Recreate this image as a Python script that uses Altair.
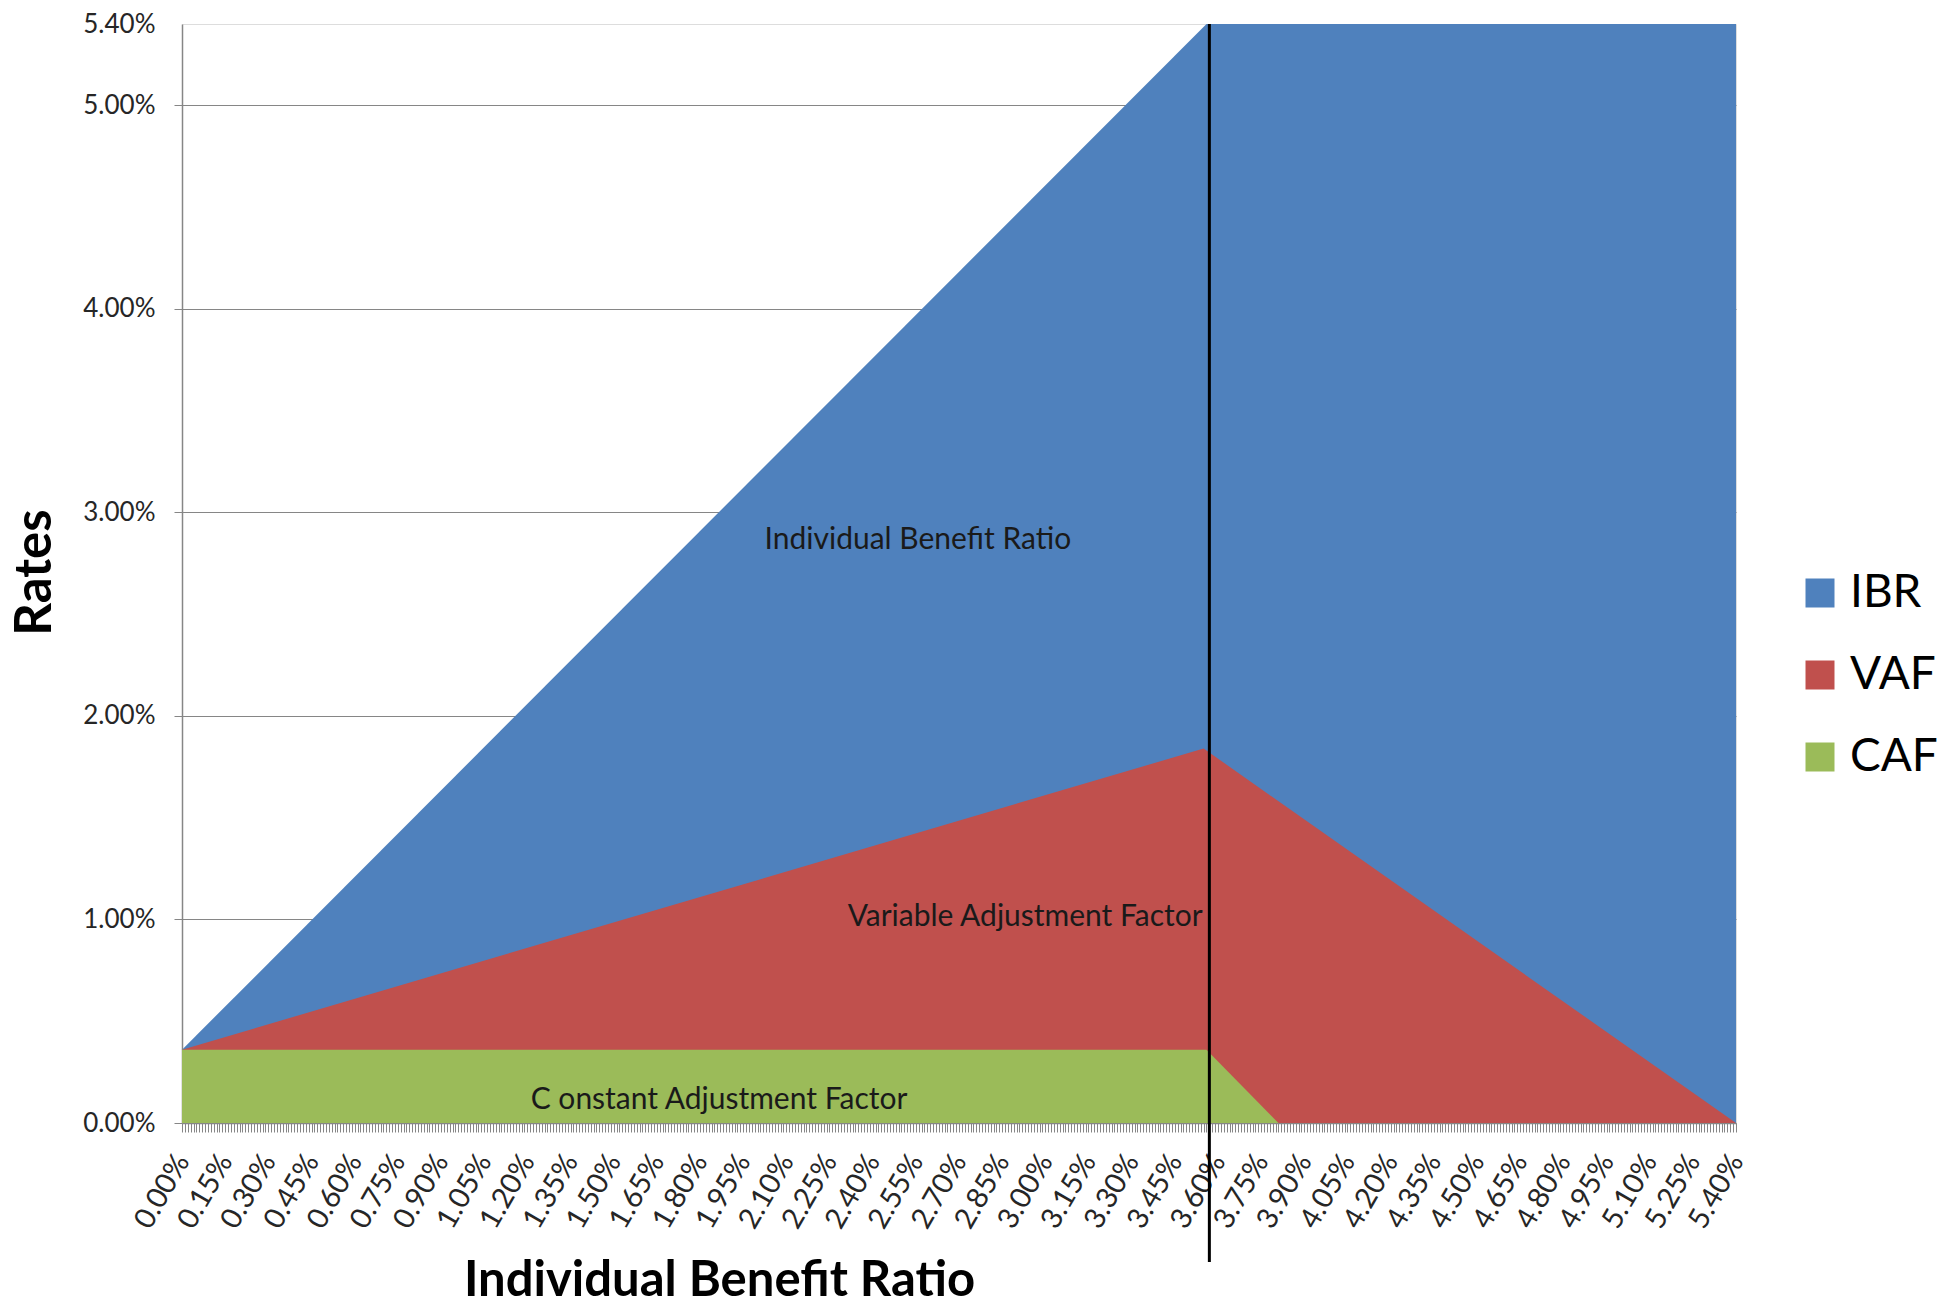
import altair as alt
import pandas as pd

# Rates (in %) at the breakpoints of each stacked band; each value is the band's top edge.
ibr_x = [0.00, 3.56, 5.40]
ibr_top = [0.36, 5.40, 5.40]

vaf_x = [0.00, 3.55, 5.40]
vaf_top = [0.36, 1.84, 0.00]

caf_x = [0.00, 3.56, 3.81]
caf_top = [0.36, 0.36, 0.00]

series_names = ["IBR", "VAF", "CAF"]
series_colors = ["#4F81BD", "#C0504D", "#9BBB59"]

marker_x = [3.57]

label_text = ["Individual Benefit Ratio", "Variable Adjustment Factor", "C onstant Adjustment Factor"]
label_x = [2.557, 2.930, 1.866]
label_y = [2.866, 1.013, 0.113]

y_ticks = [0, 1, 2, 3, 4, 5, 5.4]
x_ticks = [round(i * 0.01, 2) for i in range(541)]

FONT = "Lato"
GRAY = "#868686"

W, H = 1554, 1099


def band(name, xs, tops):
    return pd.DataFrame({"series": name, "x": xs, "top": tops})


color = alt.Color(
    "series:N",
    scale=alt.Scale(domain=series_names, range=series_colors),
    legend=alt.Legend(
        title=None,
        orient="none",
        legendX=1615,
        legendY=546,
        symbolType="square",
        symbolSize=841,
        symbolStrokeWidth=0,
        labelFontSize=46,
        labelFont=FONT,
        labelColor="#000000",
        labelOffset=7,
        rowPadding=36,
    ),
)

x_enc = alt.X(
    "x:Q",
    scale=alt.Scale(domain=[0, 5.4], nice=False, zero=False),
    axis=alt.Axis(
        values=x_ticks,
        tickCount=1000,
        labelExpr="round(datum.value*100) % 15 === 0 ? format(datum.value, '.2f') + '%' : ''",
        labelAngle=-60,
        labelAlign="right",
        labelBaseline="middle",
        labelPadding=24,
        labelFontSize=29,
        labelFont=FONT,
        labelColor="#262626",
        labelOverlap=False,
        labelFlush=False,
        labelBound=False,
        tickSize=9,
        tickColor=GRAY,
        tickWidth=1,
        domainColor=GRAY,
        domainWidth=1.5,
        grid=False,
        title="Individual Benefit Ratio",
        titleFont=FONT,
        titleFontSize=49,
        titleFontWeight="bold",
        titleColor="#000000",
        titleX=537,
        titleY=172,
        titleAlign="center",
        titleBaseline="alphabetic",
    ),
)

y_enc = alt.Y(
    "top:Q",
    stack=None,
    scale=alt.Scale(domain=[0, 5.4], nice=False),
    axis=alt.Axis(
        values=y_ticks,
        labelExpr="format(datum.value, '.2f') + '%'",
        labelFontSize=26,
        labelFont=FONT,
        labelColor="#262626",
        labelPadding=19,
        tickSize=8,
        tickColor=GRAY,
        tickOpacity=alt.condition("datum.value > 5.2", alt.value(0), alt.value(1)),
        gridOpacity=alt.condition("datum.value > 5.2", alt.value(0), alt.value(1)),
        gridColor=GRAY,
        gridWidth=1.2,
        domainColor=GRAY,
        domainWidth=1.5,
        title="Rates",
        titleFont=FONT,
        titleFontSize=51,
        titleFontWeight="bold",
        titleColor="#000000",
        titleAngle=270,
        titleX=-132,
        titleY=548,
        titleAlign="center",
        titleBaseline="alphabetic",
    ),
)

layers = []
for name, xs, tops in [("IBR", ibr_x, ibr_top), ("VAF", vaf_x, vaf_top), ("CAF", caf_x, caf_top)]:
    layers.append(
        alt.Chart(band(name, xs, tops))
        .mark_area(interpolate="linear", opacity=1)
        .encode(x=x_enc, y=y_enc, color=color)
    )

marker = (
    alt.Chart(pd.DataFrame({"x": marker_x}))
    .mark_rule(color="#000000", strokeWidth=3)
    .encode(x=alt.X("x:Q"), y=alt.value(0), y2=alt.value(1238))
)

labels = (
    alt.Chart(pd.DataFrame({"text": label_text, "x": label_x, "top": label_y}))
    .mark_text(font=FONT, fontSize=30, color="#1a1a1a", align="center", baseline="middle")
    .encode(x=alt.X("x:Q"), y=alt.Y("top:Q"), text="text:N")
)

chart = (
    alt.layer(*layers, marker, labels)
    .properties(
        width=W,
        height=H,
        autosize=alt.AutoSizeParams(type="none"),
        padding={"left": 182, "top": 24, "right": 217, "bottom": 188},
    )
    .configure_view(stroke=None)
    .configure(background="#ffffff")
)

chart.save("out.html", embed_options={"renderer": "svg", "actions": False})
